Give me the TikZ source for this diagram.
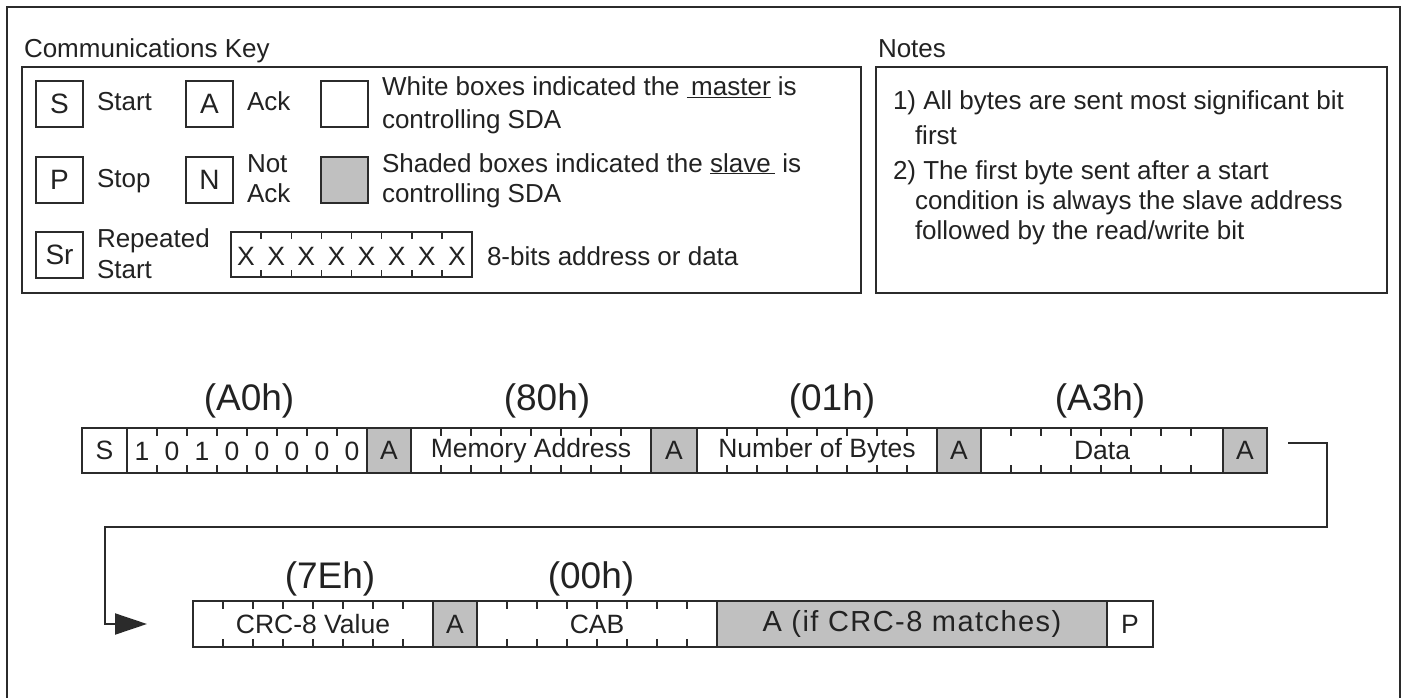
\documentclass[tikz,border=0pt]{standalone}
\usepackage{fontspec}
\setmainfont{Liberation Sans}
\usetikzlibrary{arrows.meta}
\definecolor{ln}{HTML}{2B2B2B}
\definecolor{shade}{HTML}{C0C0C0}
\definecolor{txt}{HTML}{222222}
\begin{document}
\begin{tikzpicture}[x=1pt,y=-1pt,
  lbl/.style={anchor=base west,inner sep=0pt,outer sep=0pt,text=txt,font=\fontsize{26}{30}\selectfont},
  hexlbl/.style={anchor=base,inner sep=0pt,text=txt,font=\fontsize{37}{40}\selectfont},
  panel/.style={draw=ln,line width=2pt,inner sep=0pt,outer sep=0pt,anchor=north west},
  kbox/.style={draw=ln,line width=2pt,minimum width=47pt,minimum height=46pt,inner sep=0pt,outer sep=0pt,anchor=north west,text=txt,font=\fontsize{28}{30}\selectfont},
  seg/.style={draw=ln,line width=2pt,minimum height=45pt,inner sep=0pt,outer sep=0pt,anchor=north west,text=txt,font=\fontsize{26.5}{30}\selectfont},
  ack/.style={seg,fill=shade},
  bitlbl/.style={inner sep=0pt,text=txt,font=\fontsize{26.5}{30}\selectfont},
  tick/.style={draw=ln,line width=1.5pt},
  conn/.style={draw=ln,line width=2pt,line join=miter},
]
\useasboundingbox (0,0) rectangle (1401,698);
\fill[white] (0,0) rectangle (1401,698);
% outer frame
\draw[draw=ln,line width=2.5pt] (7,698) -- (7,7) -- (1400,7) -- (1400,698);

% ---------- Communications key ----------
\node[lbl] (keyttl) at (24,58) {Communications Key};
\node[panel,minimum width=839pt,minimum height=226pt] (keybox) at (22,67) {};

\node[kbox] (kS) at (36,81) {S};
\node[lbl] (kStart) at (97,111) {Start};
\node[kbox] (kA) at (186,81) {A};
\node[lbl] (kAck) at (247,111) {Ack};
\node[kbox] (kW) at (321,81) {};
\node[lbl] (kW1) at (382,96) {White boxes indicated the \underline{\,master} is};
\node[lbl] (kW2) at (382,129) {controlling SDA};

\node[kbox] (kP) at (36,157) {P};
\node[lbl] (kStop) at (97,187) {Stop};
\node[kbox] (kN) at (186,157) {N};
\node[lbl] (kNot) at (247,172) {Not};
\node[lbl] (kNack) at (247,203) {Ack};
\node[kbox,fill=shade] (kG) at (321,157) {};
\node[lbl] (kG1) at (382,172) {Shaded boxes indicated the \underline{slave\,} is};
\node[lbl] (kG2) at (382,203) {controlling SDA};

\node[kbox] (kSr) at (36,232) {Sr};
\node[lbl] (kRep) at (97,247) {Repeated};
\node[lbl] (kRep2) at (97,278) {Start};
\node[kbox,minimum width=241pt,minimum height=45pt] (kX) at (231,232) {};
\foreach \i in {1,...,8} {
  \node[bitlbl] (kx\i) at (231+30.125*\i-15.06,256) {X};
}
\foreach \i in {1,...,7} {
  \draw[tick] ([xshift=\i*30.125pt]kX.north west) -- ++(0,7);
  \draw[tick] ([xshift=\i*30.125pt]kX.south west) -- ++(0,-7);
}
\node[lbl] (kXlbl) at (487,265) {8-bits address or data};

% ---------- Notes ----------
\node[lbl] (notesttl) at (878,58) {Notes};
\node[panel,minimum width=511pt,minimum height=226pt] (notesbox) at (876,67) {};
\node[lbl] (n1) at (893,110) {1) All bytes are sent most significant bit};
\node[lbl] (n1b) at (915,145) {first};
\node[lbl] (n2) at (893,180) {2) The first byte sent after a start};
\node[lbl] (n2b) at (915,210) {condition is always the slave address};
\node[lbl] (n2c) at (915,240) {followed by the read/write bit};

% ---------- Row 1 ----------
\node[seg,minimum width=45pt] (s1) at (82,428) {S};
\node[seg,minimum width=240pt] (addr) at (127,428) {};
\foreach \d [count=\i] in {1,0,1,0,0,0,0,0} {
  \node[bitlbl] (bit\i) at (127+30*\i-15,451) {\d};
}
\node[ack,minimum width=44pt] (a1) at (367,428) {A};
\node[seg,minimum width=240pt] (mem) at (411,428) {Memory Address};
\node[ack,minimum width=46pt] (a2) at (651,428) {A};
\node[seg,minimum width=240pt] (nob) at (697,428) {Number of Bytes};
\node[ack,minimum width=44pt] (a3) at (937,428) {A};
\node[seg,minimum width=242pt] (data) at (981,428) {Data};
\node[ack,minimum width=44pt] (a4) at (1223,428) {A};

\node[hexlbl] (hA0) at (249,410) {(A0h)};
\node[hexlbl] (h80) at (547,410) {(80h)};
\node[hexlbl] (h01) at (832,410) {(01h)};
\node[hexlbl] (hA3) at (1100,410) {(A3h)};

% ---------- Row 2 ----------
\node[seg,minimum width=240pt,minimum height=46pt] (crc) at (193,601) {CRC-8 Value};
\node[ack,minimum width=44pt,minimum height=46pt] (a5) at (433,601) {A};
\node[seg,minimum width=240pt,minimum height=46pt] (cab) at (477,601) {CAB};
\node[ack,minimum width=390pt,minimum height=46pt,font=\fontsize{29}{30}\selectfont\addfontfeature{LetterSpace=5}] (a6) at (717,601) {A (if CRC-8 matches)};
\node[seg,minimum width=46pt,minimum height=46pt] (p2) at (1107,601) {P};

\node[hexlbl] (h7E) at (330,588) {(7Eh)};
\node[hexlbl] (h00) at (591,588) {(00h)};

% ticks
\foreach \n in {addr,mem,nob,data,crc,cab} {
  \foreach \i in {1,...,7} {
    \draw[tick] ([xshift=\i*30pt]\n.north west) -- ++(0,8);
    \draw[tick] ([xshift=\i*30pt]\n.south west) -- ++(0,-8);
  }
}

% ---------- connector ----------
\coordinate (lnStart) at ([shift={(21pt,7.5pt)}]a4.east);
\coordinate (lnEnd) at ([xshift=-46pt]crc.west);
\draw[conn,-{Triangle[length=32pt,width=21pt]}] (lnStart) -- ++(39,0) |- (105,527) |- (lnEnd);
\end{tikzpicture}
\end{document}
